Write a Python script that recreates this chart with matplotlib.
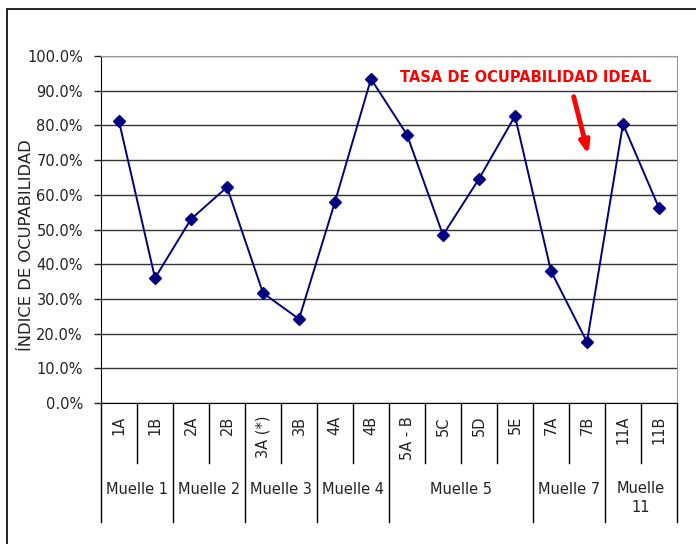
import numpy as np
import matplotlib.pyplot as plt
from matplotlib.patches import Rectangle
from matplotlib.ticker import FuncFormatter

CATEGORIES = ['1A', '1B', '2A', '2B', '3A (*)', '3B', '4A', '4B',
              '5A - B', '5C', '5D', '5E', '7A', '7B', '11A', '11B']
VALUES = [81.2, 36.0, 53.0, 62.2, 31.7, 24.2, 58.0, 93.4,
          77.3, 48.4, 64.6, 82.7, 38.0, 17.6, 80.4, 56.2]
GROUPS = ['Muelle 1', 'Muelle 2', 'Muelle 3', 'Muelle 4',
          'Muelle 5', 'Muelle 7', 'Muelle\n11']
GROUP_SIZES = [2, 2, 2, 2, 4, 2, 2]
NOTE = 'TASA DE OCUPABILIDAD IDEAL'

W, H = 696, 544
FS = 10.5

fig = plt.figure(figsize=(W / 100, H / 100), dpi=100)
fig.patches.append(Rectangle((7 / W, -0.1), 1.2, (H - 9) / H + 0.1,
                             transform=fig.transFigure, fill=False,
                             edgecolor='black', linewidth=1.2))

x0, x1, ytop, ybot = 101, 677, 56, 403
ax = fig.add_axes([x0 / W, 1 - ybot / H, (x1 - x0) / W, (ybot - ytop) / H])

n = len(CATEGORIES)
xs = np.arange(n)
ax.plot(xs, VALUES, color='#000080', linewidth=1.4, marker='D',
        markersize=6.5, markerfacecolor='#000080', markeredgecolor='#000080',
        zorder=3, clip_on=False)

ax.set_xlim(-0.5, n - 0.5)
ax.set_ylim(0, 100)
ax.set_yticks(np.arange(0, 101, 10))
ax.yaxis.set_major_formatter(FuncFormatter(lambda v, p: f'{v:.1f}%'))
ax.tick_params(axis='y', labelsize=FS, length=5, width=1, pad=8,
               colors='#222222')
ax.set_xticks([])
ax.grid(axis='y', color='#333333', linewidth=1)
ax.set_axisbelow(True)
for side in ['top', 'right']:
    ax.spines[side].set_color('#999999')
ax.spines['left'].set_color('black')
ax.spines['bottom'].set_color('black')
ax.set_ylabel('ÍNDICE DE OCUPABILIDAD', fontsize=11.8, color='#222222')
ax.yaxis.set_label_coords((34 - x0) / (x1 - x0), (ybot - 245) / (ybot - ytop))

# two level category axis drawn below the plot
trans = ax.get_xaxis_transform()
def fy(py):
    return (ybot - py) / (ybot - ytop)

for i, cat in enumerate(CATEGORIES):
    ax.text(i, fy(416), cat, rotation=90, ha='center', va='top',
            fontsize=FS, transform=trans, color='#222222')

bounds = np.concatenate([[0], np.cumsum(GROUP_SIZES)])
for b in range(n + 1):
    xb = b - 0.5
    end = 522 if b in bounds else 463
    ax.plot([xb, xb], [0, fy(end)], color='black', linewidth=1,
            transform=trans, clip_on=False)

for g, name in enumerate(GROUPS):
    cx = (bounds[g] + bounds[g + 1]) / 2 - 0.5
    yy = 498 if '\n' in name else 489
    ax.text(cx, fy(yy), name, ha='center', va='center', fontsize=FS,
            transform=trans, color='#222222', linespacing=1.3)

# annotation
ax.text(526 / W, 1 - 77 / H, NOTE, transform=fig.transFigure, ha='center',
        va='center', color='red', fontsize=FS, fontweight='bold')
ax.annotate('', xy=(589 / W, 1 - 157 / H), xytext=(573 / W, 1 - 94 / H),
            xycoords='figure fraction', textcoords='figure fraction',
            arrowprops=dict(arrowstyle='-|>,head_length=0.7,head_width=0.28',
                            color='red', linewidth=3.5))

fig.savefig('out.png', dpi=100)
